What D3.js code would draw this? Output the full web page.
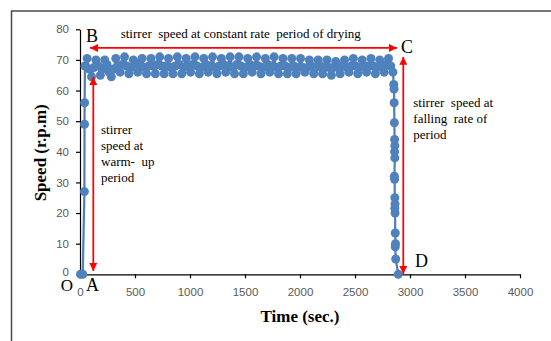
<!DOCTYPE html>
<html>
<head>
<meta charset="UTF-8">
<title>Stirrer speed vs time</title>
<script src="https://d3js.org/d3.v7.min.js"></script>
<style>
  body { margin: 0; background: #fff; }
  .tick text { font-family: "Liberation Sans", Arial, sans-serif; font-size: 11.5px; fill: #595959; }
  .note { font-family: "Liberation Serif", "Times New Roman", serif; fill: #000; white-space: pre; }
</style>
</head>
<body>
<svg id="chart"></svg>
<script>
// warm-up period (time in sec, speed in r.p.m)
const warmTime  = [5, 25, 40, 41, 42];
const warmSpeed = [0, 0, 27, 49, 56];

// constant rate period, sampled every 20 s starting at 45 s
const plateauStart = 45;
const plateauStep = 20;
const plateauSpeed = [
  68, 70.5, 67, 64.5, 67.5, 70, 68, 65, 67, 70,
  68.5, 66, 64.5, 67, 70.5, 68, 66, 68.5, 71, 68,
  65.5, 67.5, 70, 69, 66, 68, 70.5, 67.5, 65.5, 68,
  70.5, 68, 65.5, 68.5, 71, 68, 65.5, 68, 70.5, 67.5,
  65.5, 68, 71, 68.5, 65.5, 67.5, 70.5, 68, 66, 68.5,
  71, 68, 65.5, 67.5, 70.5, 68.5, 66, 68, 71, 67.5,
  65.5, 68, 70.5, 68.5, 66, 68, 71, 67.5, 65.5, 68.5,
  71, 68, 65.5, 67.5, 70.5, 68.5, 66, 68, 71, 68,
  65.5, 67.5, 70.5, 68.5, 66, 68, 71, 67.5, 65.5, 68,
  70.5, 68, 65.5, 67.5, 70.5, 68, 65.5, 67.5, 70.5, 67.5,
  66, 67.5, 70, 68, 65.5, 67.5, 70, 68, 65.5, 67.5,
  70, 67.5, 65, 67.5, 69.5, 67.5, 65.5, 68, 70, 67.5,
  66, 68, 70.5, 68, 65.5, 67.5, 70, 68, 66, 68,
  70.5, 68, 65.5, 67.5, 70, 68, 66, 68.5, 70.5, 68,
  66
];

// falling rate period
const fallTime  = [2852, 2855, 2856, 2858, 2860, 2862, 2860, 2862, 2858, 2860, 2862, 2864, 2862, 2864, 2866, 2868, 2866, 2870, 2893];
const fallSpeed = [62, 60.5, 56, 49.5, 44, 42, 40, 38, 32, 31, 25, 23, 21.5, 20, 13.5, 10, 9, 5, 0];

const xTicks = [0, 500, 1000, 1500, 2000, 2500, 3000, 3500, 4000];
const yTicks = [0, 10, 20, 30, 40, 50, 60, 70, 80];

const width = 551, height = 341;
const blue = "#4f81bd", red = "#ff0000";

const series = [];
warmTime.forEach((t, i) => series.push({t: t, v: warmSpeed[i]}));
plateauSpeed.forEach((v, i) => series.push({t: plateauStart + i * plateauStep, v: v}));
fallTime.forEach((t, i) => series.push({t: t, v: fallSpeed[i]}));

const svg = d3.select("#chart")
  .attr("width", width)
  .attr("height", height);

svg.append("rect").attr("width", width).attr("height", height).attr("fill", "#fff");

// picture frame (top and left edges visible)
svg.append("path")
  .attr("d", "M11.5,341 L11.5,11 L551,11")
  .attr("fill", "none")
  .attr("stroke", "#4a4a4a")
  .attr("stroke-width", 1.5);

const x = d3.scaleLinear().domain([0, 4000]).range([80, 520]);
const y = d3.scaleLinear().domain([0, 80]).range([274.3, 29.3]);

// axes
const xAxis = svg.append("g")
  .attr("transform", `translate(0, ${y(0)})`)
  .call(d3.axisBottom(x).tickValues(xTicks).tickFormat(d3.format("d"))
    .tickSize(4).tickSizeOuter(0).tickPadding(10));
const yAxis = svg.append("g")
  .attr("transform", `translate(${x(0)}, 0)`)
  .call(d3.axisLeft(y).tickValues(yTicks).tickFormat(d3.format("d"))
    .tickSize(4).tickSizeOuter(0).tickPadding(7));
[xAxis, yAxis].forEach(g => {
  g.select(".domain").attr("stroke", "#000").attr("stroke-width", 1.2);
  g.selectAll(".tick line").attr("stroke", "#000").attr("stroke-width", 1.2);
});
// the "0" speed label sits a little higher, above the "O" corner letter
yAxis.selectAll(".tick text").filter(d => d === 0).attr("dy", "0.1em");

// axis titles
svg.append("text")
  .attr("class", "note")
  .attr("x", (x(0) + x(4000)) / 2)
  .attr("y", 322)
  .attr("text-anchor", "middle")
  .style("font-weight", "bold")
  .style("font-size", "17px")
  .text("Time (sec.)");
svg.append("text")
  .attr("class", "note")
  .attr("transform", `translate(46, ${(y(0) + y(80)) / 2 + 1})rotate(-90)`)
  .attr("text-anchor", "middle")
  .style("font-weight", "bold")
  .style("font-size", "17px")
  .text("Speed (r.p.m)");

// data line and markers
const line = d3.line().x(d => x(d.t)).y(d => y(d.v));
svg.append("path")
  .datum(series)
  .attr("d", line)
  .attr("fill", "none")
  .attr("stroke", blue)
  .attr("stroke-width", 2.25);
svg.append("g").selectAll("circle")
  .data(series)
  .enter().append("circle")
  .attr("cx", d => x(d.t))
  .attr("cy", d => y(d.v))
  .attr("r", 4.5)
  .attr("fill", blue);

// red arrows
const defs = svg.append("defs");
["start", "end"].forEach(k => {
  defs.append("marker")
    .attr("id", "arrow-" + k)
    .attr("viewBox", "0 0 10 10")
    .attr("refX", k === "end" ? 10 : 0)
    .attr("refY", 5)
    .attr("markerWidth", 8)
    .attr("markerHeight", 8)
    .attr("markerUnits", "userSpaceOnUse")
    .attr("orient", "auto")
    .append("path")
    .attr("d", k === "end" ? "M0,0 L10,5 L0,10 Z" : "M10,0 L0,5 L10,10 Z")
    .attr("fill", red);
});
function arrow(t1, v1, t2, v2) {
  svg.append("line")
    .attr("x1", x(t1)).attr("y1", y(v1))
    .attr("x2", x(t2)).attr("y2", y(v2))
    .attr("stroke", red)
    .attr("stroke-width", 1.75)
    .attr("marker-start", "url(#arrow-start)")
    .attr("marker-end", "url(#arrow-end)");
}
arrow(91, 73.9, 2882, 73.9);
arrow(121, 64.4, 121, 1.1);
arrow(2939, 71, 2939, 0.1);

// annotation texts
function note(t, v, lines, size) {
  const txt = svg.append("text")
    .attr("class", "note")
    .attr("x", x(t))
    .attr("y", y(v))
    .style("font-size", size + "px");
  lines.forEach((s, i) => {
    txt.append("tspan").attr("x", x(t)).attr("dy", i === 0 ? 0 : 16).text(s);
  });
}
note(55, 75.9, ["B"], 18);
note(2918, 72.4, ["C"], 18);
note(3045, 2.3, ["D"], 18);
note(-175, -5.6, ["O"], 17);
note(55, -5.4, ["A"], 18);
note(370, 77.3, ["stirrer  speed at constant rate  period of drying"], 13);
note(3030, 54.6, ["stirrer  speed at", "falling  rate of", "period"], 13);
note(191, 45.9, ["stirrer", "speed at", "warm-  up", "period"], 13);
</script>
</body>
</html>
